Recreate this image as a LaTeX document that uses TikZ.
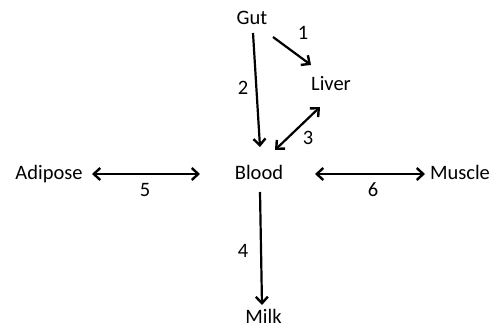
\documentclass[tikz,border=0pt]{standalone}
\usepackage{fontspec}
\setmainfont{Carlito}
\usetikzlibrary{arrows.meta,calc}
\begin{document}
\begin{tikzpicture}[x=1pt,y=-1pt,
  lbl/.style={anchor=base,inner sep=0pt,font=\fontsize{20.5}{24}\selectfont},
  num/.style={anchor=base,inner sep=0pt,font=\fontsize{20.5}{24}\selectfont},
  tip/.tip={Straight Barb[length=6.5pt,width=12pt,line width=2.4pt]},
  conn/.style={line width=2.2pt,-tip},
  dconn/.style={line width=2.2pt,tip-tip}]
\useasboundingbox (0,0) rectangle (497,328);
\node[lbl] (gut) at (252,25) {Gut};
\node[lbl] (liver) at (331,91) {Liver};
\node[lbl] (blood) at (259,180) {Blood};
\node[lbl] (adipose) at (49,180) {Adipose};
\node[lbl] (muscle) at (460,180) {Muscle};
\node[lbl] (milk) at (263.5,323) {Milk};
% connectors
\draw[conn] ($(gut.base)+(1,8)$) -- ($(blood.base)+(1,-33)$);
\draw[conn] ($(gut.base)+(21,12)$) -- ($(liver.base)+(-20,-26)$);
\draw[dconn] ($(liver.base)+(-11,16)$) -- ($(blood.base)+(16,-30)$);
\draw[conn] ($(blood.base)+(1,12)$) -- ($(milk.base)+(-1.5,-18)$);
\draw[dconn] ($(adipose.base)+(43,-6)$) -- ($(blood.base)+(-59,-6)$);
\draw[dconn] ($(blood.base)+(56,-6)$) -- ($(muscle.base)+(-35,-6)$);
% labels
\node[num] (n1) at (303,40) {1};
\node[num] (n2) at (243,95) {2};
\node[num] (n3) at (308,145) {3};
\node[num] (n4) at (243,258) {4};
\node[num] (n5) at (145,197) {5};
\node[num] (n6) at (373,197) {6};
\end{tikzpicture}
\end{document}
